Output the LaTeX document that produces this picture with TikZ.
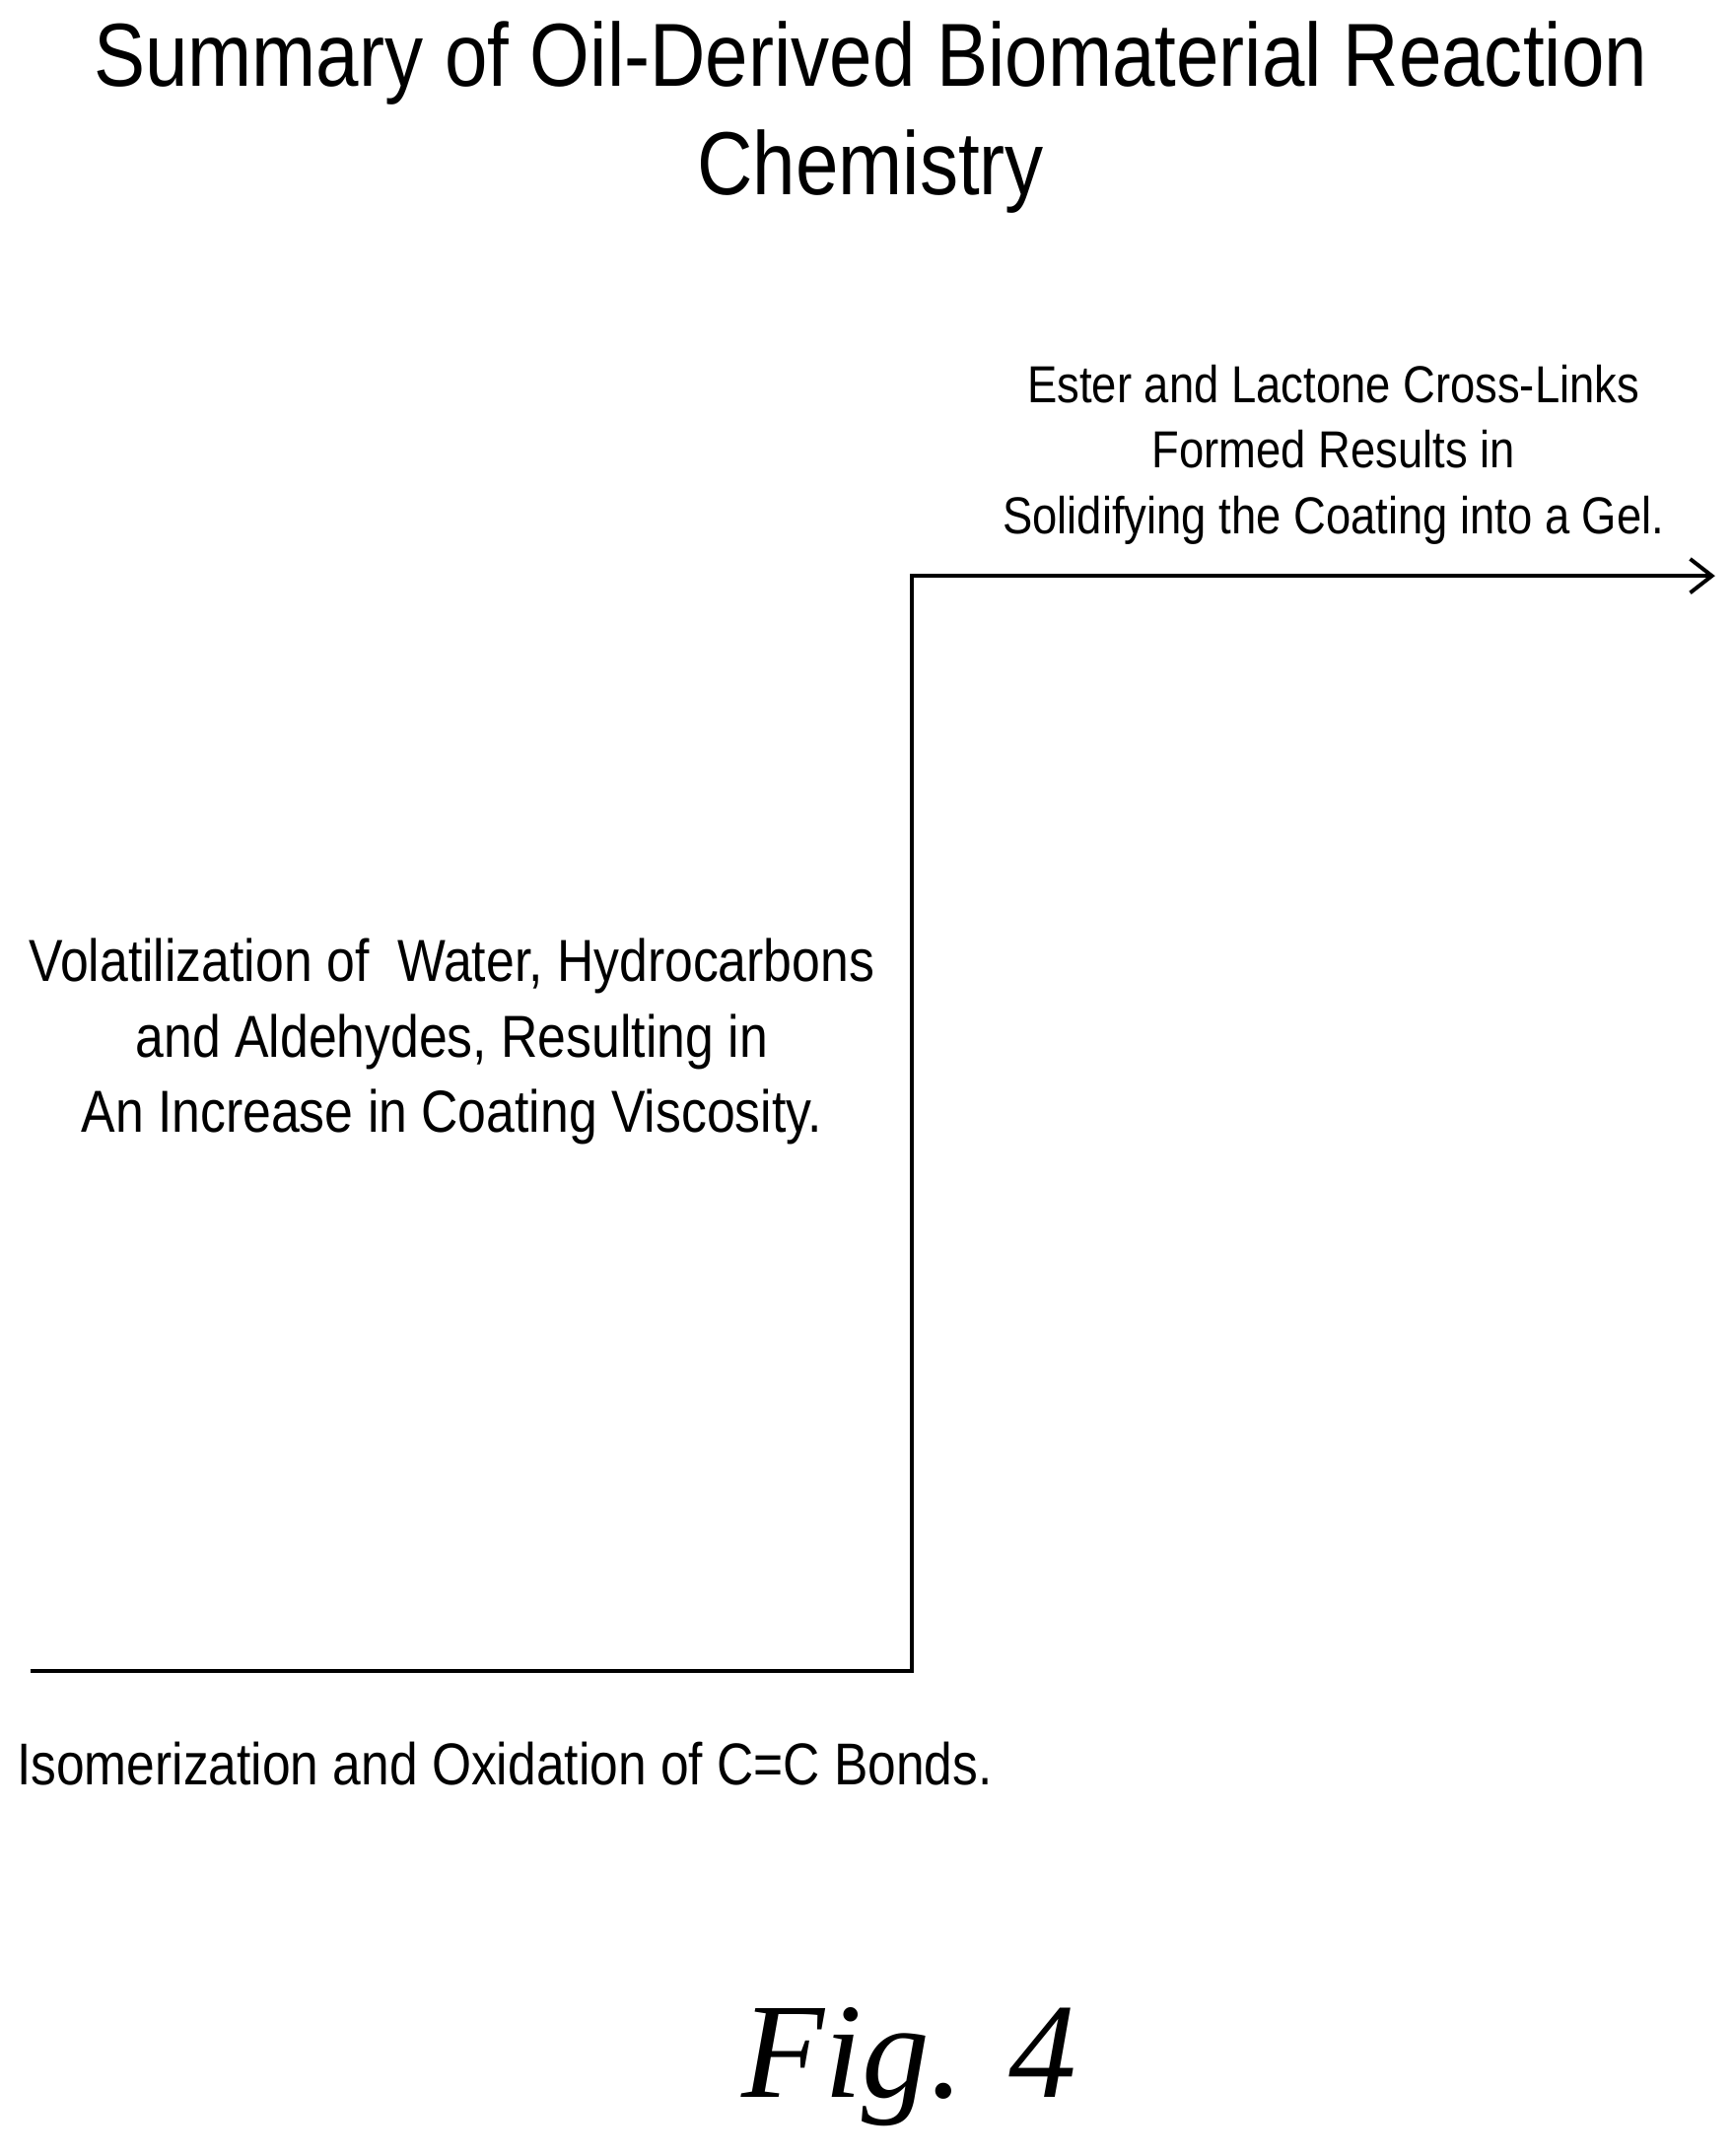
\documentclass[tikz,border=0pt]{standalone}
\usepackage{fontspec}
\setmainfont[FakeStretch=0.86]{Liberation Sans}
\newfontfamily\figfont{Liberation Serif}
\usetikzlibrary{arrows.meta,positioning}
\begin{document}
\begin{tikzpicture}[x=0.02cm,y=-0.02cm,
  every node/.style={inner sep=0pt},
  label text/.style={align=center,font=\fontsize{21.5}{27}\selectfont},
  step line/.style={line width=1.6pt}]
  \useasboundingbox (0,0) rectangle (1257,1565);
  \node[align=center,font=\fontsize{37}{45}\selectfont] (title) at (632,85)
    {Summary of Oil-Derived Biomaterial Reaction\\Chemistry};
  \node[label text] (gel) at (968,330)
    {Ester and Lactone Cross-Links\\Formed Results in\\Solidifying the Coating into a Gel.};
  \node[label text,font=\fontsize{24.5}{31}\selectfont] (visc) at (328,756)
    {Volatilization of\ \ Water, Hydrocarbons\\and Aldehydes, Resulting in\\An Increase in Coating Viscosity.};
  \node[anchor=west,font=\fontsize{24.4}{27}\selectfont] (isom) at (12,1280)
    {Isomerization and Oxidation of C=C Bonds.};
  \node[font=\figfont\itshape\fontsize{56}{60}\selectfont] (fig) at (660,1500) {Fig. 4};
  % stepped reaction path
  \coordinate (start) at (22,1213);
  \coordinate (low) at (662,1213);
  \coordinate (high) at (662,418);
  \coordinate (stop) at (1245,418);
  \draw[step line,-{Straight Barb[length=9pt,width=14pt]}] (start) -- (low) -- (high) -- (stop);
\end{tikzpicture}
\end{document}
